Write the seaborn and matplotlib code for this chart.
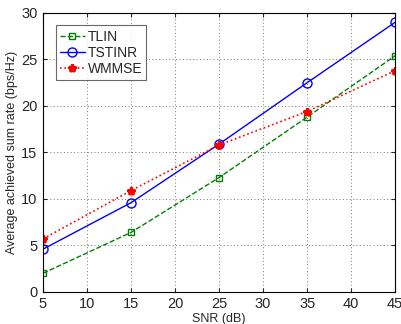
import pandas as pd
import matplotlib
matplotlib.use("Agg")
import matplotlib.pyplot as plt
import seaborn as sns

snr = [5, 15, 25, 35, 45]
tlin = [2.0, 6.4, 12.3, 18.8, 25.4]
tstinr = [4.6, 9.6, 15.9, 22.5, 29.0]
wmmse = [5.7, 10.9, 15.8, 19.4, 23.8]

sns.set_style("ticks")
plt.rcParams['font.family'] = ['Liberation Sans', 'DejaVu Sans']

fig = plt.figure(figsize=(4.02, 3.24), dpi=100)
ax = fig.add_axes([0.107, 0.099, 0.876, 0.861])

sns.lineplot(x=snr, y=tlin, ax=ax, color='#008000', linestyle='--', marker='s',
             markersize=5, markerfacecolor='none', markeredgecolor='#008000',
             markeredgewidth=1, linewidth=1, label='TLIN')
sns.lineplot(x=snr, y=tstinr, ax=ax, color='#0000ff', linestyle='-', marker='o',
             markersize=6.5, markerfacecolor='none', markeredgecolor='#0000ff',
             markeredgewidth=1, linewidth=1, label='TSTINR')
sns.lineplot(x=snr, y=wmmse, ax=ax, color='#ff0000', linestyle=':', marker='*',
             markersize=6, markerfacecolor='#ff0000', markeredgecolor='#ff0000',
             markeredgewidth=2, linewidth=1.2, label='WMMSE')

ax.set_xlim(5, 45)
ax.set_ylim(0, 30)
ax.set_xticks(range(5, 46, 5))
ax.set_yticks(range(0, 31, 5))
ax.grid(True, linestyle=(0, (1, 2.5)), color='#777777', linewidth=0.7)
ax.tick_params(direction='in', labelsize=10.5, top=True, right=True, length=3, pad=4)
for s in ax.spines.values():
    s.set_linewidth(0.8)
    s.set_color('black')
ax.set_xlabel('SNR (dB)', fontsize=9, labelpad=1)
ax.set_ylabel('Average achieved sum rate (bps/Hz)', fontsize=9, labelpad=2)

leg = ax.legend(loc='upper left', fontsize=10, frameon=True, fancybox=False,
                edgecolor='#444444', borderpad=0.3, labelspacing=0.15,
                handlelength=1.8, handletextpad=0.2, borderaxespad=0.9)
leg.get_frame().set_linewidth(0.8)

fig.savefig('out.png', dpi=100)
